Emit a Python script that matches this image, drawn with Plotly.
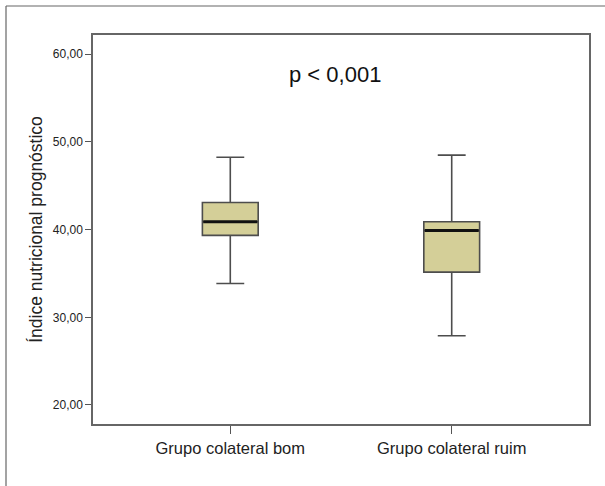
import plotly.graph_objects as go

categories = ["Grupo colateral bom", "Grupo colateral ruim"]
lower_whisker = [33.85, 27.9]
q1_values = [39.35, 35.15]
medians = [40.9, 39.9]
q3_values = [43.1, 40.9]
upper_whisker = [48.25, 48.5]
y_ticks = [20, 30, 40, 50, 60]
annotation_text = "p < 0,001"
y_title = "Índice nutricional prognóstico"

FONT = "Liberation Sans, Arial, sans-serif"
BOX_W = 0.252

fig = go.Figure()
fig.add_trace(go.Box(
    x=categories,
    q1=q1_values, median=medians, q3=q3_values,
    lowerfence=lower_whisker, upperfence=upper_whisker,
    width=BOX_W, whiskerwidth=0.5,
    fillcolor="#d4cf98",
    line=dict(color="#4d4d4d", width=1.6),
    boxpoints=False, hoverinfo="skip", showlegend=False,
))

# thick black median lines
for i, m in enumerate(medians):
    fig.add_shape(type="line", xref="x", yref="y",
                  x0=i - BOX_W / 2 + 0.004, x1=i + BOX_W / 2 - 0.004, y0=m, y1=m,
                  line=dict(color="#111111", width=3))

# outer frame (top and left)
fig.add_shape(type="line", xref="paper", yref="paper",
              x0=-0.1754, x1=1.05, y0=1.0746, y1=1.0746,
              line=dict(color="#666666", width=1.2))
fig.add_shape(type="line", xref="paper", yref="paper",
              x0=-0.1754, x1=-0.1754, y0=1.0746, y1=-0.2,
              line=dict(color="#666666", width=1.2))

fig.add_annotation(text=annotation_text, xref="paper", yref="y",
                   x=0.488, y=57.75, showarrow=False,
                   font=dict(family=FONT, size=22, color="#111111"))

fig.update_layout(
    width=605, height=486,
    margin=dict(l=93, r=16, t=35, b=62),
    paper_bgcolor="white", plot_bgcolor="white",
    separators=",.",
    font=dict(family=FONT, color="#222222"),
)
fig.update_xaxes(
    type="category", range=[-0.62, 1.62],
    showline=True, mirror=True, linecolor="#666666", linewidth=1.5,
    ticks="outside", ticklen=8, tickcolor="#555555", tickwidth=1.2,
    tickfont=dict(family=FONT, size=16.5, color="#222222"),
    showgrid=False, zeroline=False,
)
fig.update_yaxes(
    range=[17.83, 62.2],
    tickvals=y_ticks, tickformat=".2f",
    showline=True, mirror=True, linecolor="#666666", linewidth=1.5,
    ticks="outside", ticklen=6, tickcolor="#555555", tickwidth=1.2,
    tickfont=dict(family=FONT, size=12, color="#222222"),
    showgrid=False, zeroline=False,
    title=dict(text=y_title, standoff=6,
               font=dict(family=FONT, size=17.5, color="#222222")),
)

fig.write_html("out.html",
               config={"displayModeBar": False},
               post_script="document.body.style.margin='0';document.body.style.overflow='hidden';")
